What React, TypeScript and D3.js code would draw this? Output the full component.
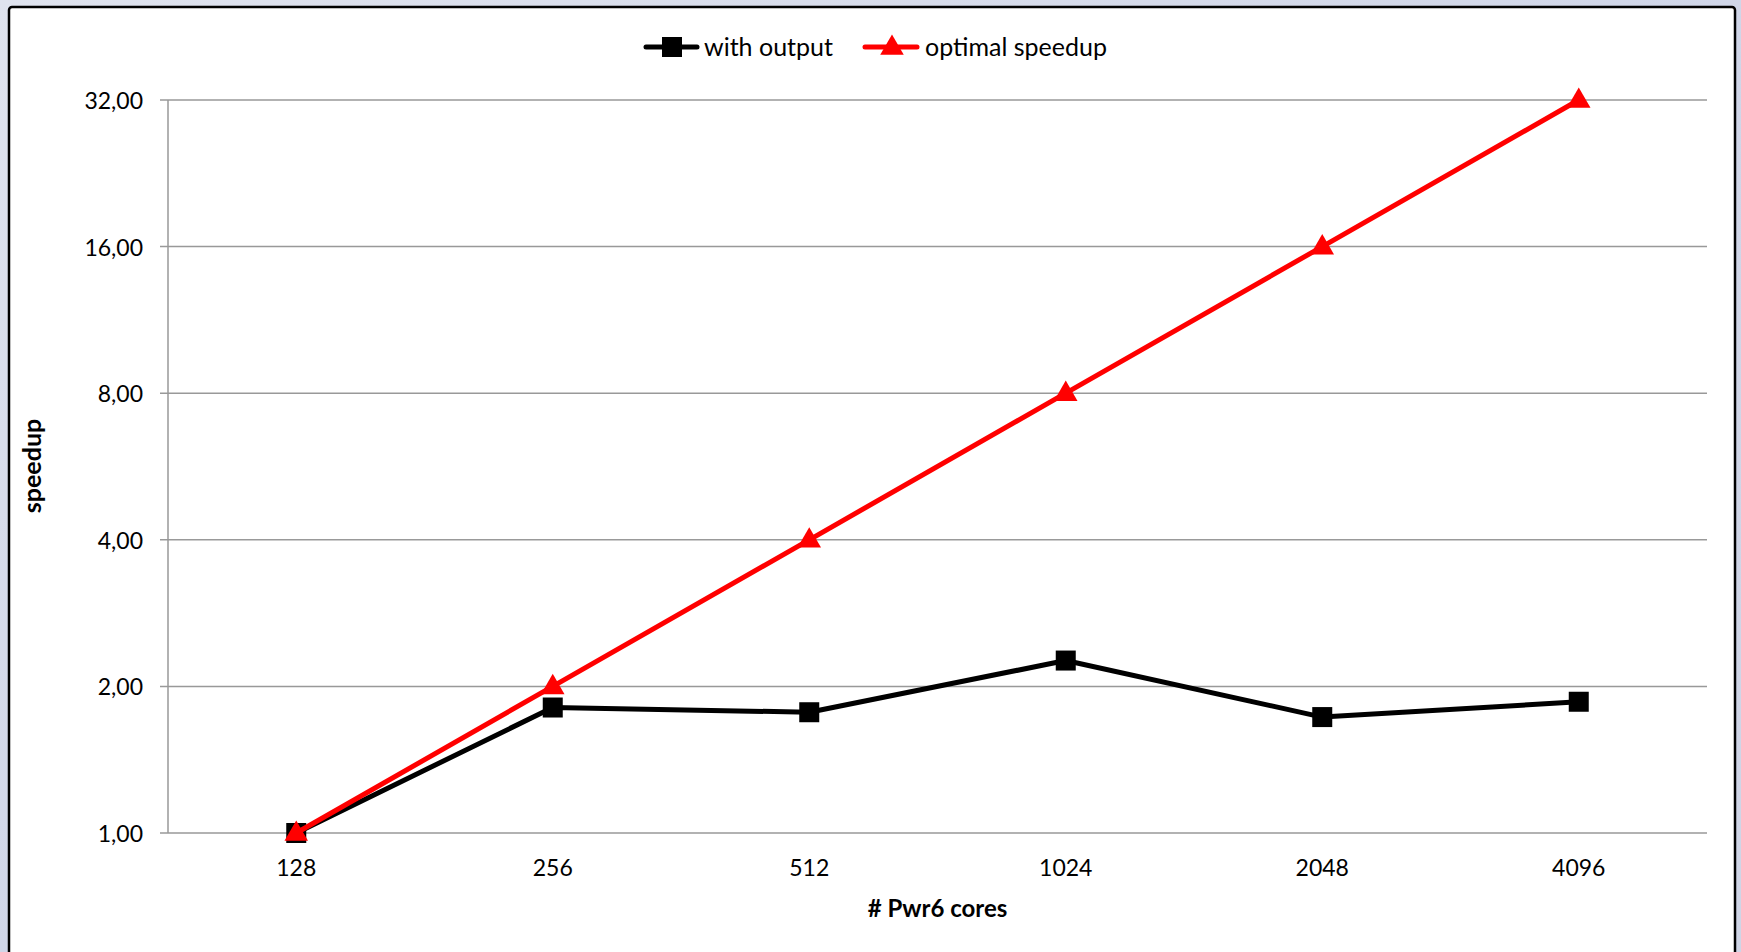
import React from "react";
import * as d3 from "d3";

const categories = ["128", "256", "512", "1024", "2048", "4096"];
const withOutput = [1.0, 1.81, 1.77, 2.26, 1.73, 1.86];
const optimalSpeedup = [1, 2, 4, 8, 16, 32];
const yTicks = [1, 2, 4, 8, 16, 32];
const seriesNames = ["with output", "optimal speedup"];

const W = 1741;
const H = 952;
const FONT = "Lato, 'Open Sans', sans-serif";

export default function App() {
  const plotLeft = 168;
  const plotRight = 1707;
  const plotTop = 100;
  const plotBottom = 833;

  const x = d3.scaleBand<string>().domain(categories).range([plotLeft, plotRight]);
  const y = d3.scaleLog().base(2).domain([1, 32]).range([plotBottom, plotTop]);
  const cx = (c: string) => (x(c) as number) + x.bandwidth() / 2;

  const line = d3
    .line<number>()
    .x((_, i) => cx(categories[i]))
    .y((d) => y(d));

  const fmt = (v: number) => v.toFixed(2).replace(".", ",");
  const tri = d3.symbol().type(d3.symbolTriangle).size(240)();

  return (
    <svg
      width={W}
      height={H}
      style={{ position: "absolute", left: 0, top: 0, display: "block" }}
      fontFamily={FONT}
    >
      <defs>
        <linearGradient id="bg" x1="0" y1="0" x2="1" y2="1">
          <stop offset="0" stopColor="#dfe3ee" />
          <stop offset="0.5" stopColor="#d0d6e8" />
          <stop offset="1" stopColor="#cfd5e6" />
        </linearGradient>
      </defs>
      <rect x={0} y={0} width={W} height={H} fill="url(#bg)" />
      <rect x={9} y={7} width={1726} height={H + 20} fill="#fff" stroke="#000" strokeWidth={2.5} rx={3} />

      {/* gridlines */}
      {yTicks.map((t) => (
        <line key={t} x1={plotLeft - 8} x2={plotRight} y1={y(t)} y2={y(t)} stroke="#999" strokeWidth={1.5} />
      ))}
      <line x1={plotLeft} x2={plotLeft} y1={plotTop} y2={plotBottom} stroke="#999" strokeWidth={1.5} />

      {/* y tick labels */}
      {yTicks.map((t) => (
        <text key={t} x={143} y={y(t)} textAnchor="end" dominantBaseline="central" fontSize={23} fill="#000">
          {fmt(t)}
        </text>
      ))}

      {/* x tick labels */}
      {categories.map((c) => (
        <text key={c} x={cx(c)} y={867} textAnchor="middle" dominantBaseline="central" fontSize={23} fill="#000">
          {c}
        </text>
      ))}

      {/* axis titles */}
      <text x={(plotLeft + plotRight) / 2} y={907} textAnchor="middle" dominantBaseline="central" fontSize={24} fontWeight="bold">
        # Pwr6 cores
      </text>
      <text
        transform={`translate(31, 466) rotate(-90)`}
        textAnchor="middle"
        dominantBaseline="central"
        fontSize={25}
        fontWeight="bold"
      >
        speedup
      </text>

      {/* series: with output */}
      <path d={line(withOutput) as string} fill="none" stroke="#000" strokeWidth={5} strokeLinejoin="round" />
      {withOutput.map((v, i) => (
        <rect key={i} x={cx(categories[i]) - 10} y={y(v) - 10} width={20} height={20} fill="#000" />
      ))}

      {/* series: optimal speedup */}
      <path d={line(optimalSpeedup) as string} fill="none" stroke="#ff0000" strokeWidth={5} strokeLinejoin="round" />
      {optimalSpeedup.map((v, i) => (
        <path key={i} d={tri as string} transform={`translate(${cx(categories[i])}, ${y(v) + 1})`} fill="#ff0000" />
      ))}

      {/* legend */}
      <g>
        <line x1={646} x2={697} y1={47} y2={47} stroke="#000" strokeWidth={5} strokeLinecap="round" />
        <rect x={662} y={37} width={20} height={20} fill="#000" />
        <text x={704} y={46} dominantBaseline="central" fontSize={25}>
          {seriesNames[0]}
        </text>
        <line x1={865} x2={917} y1={47} y2={47} stroke="#ff0000" strokeWidth={5} strokeLinecap="round" />
        <path d={tri as string} transform={`translate(892, 48)`} fill="#ff0000" />
        <text x={925} y={46} dominantBaseline="central" fontSize={25}>
          {seriesNames[1]}
        </text>
      </g>
    </svg>
  );
}
